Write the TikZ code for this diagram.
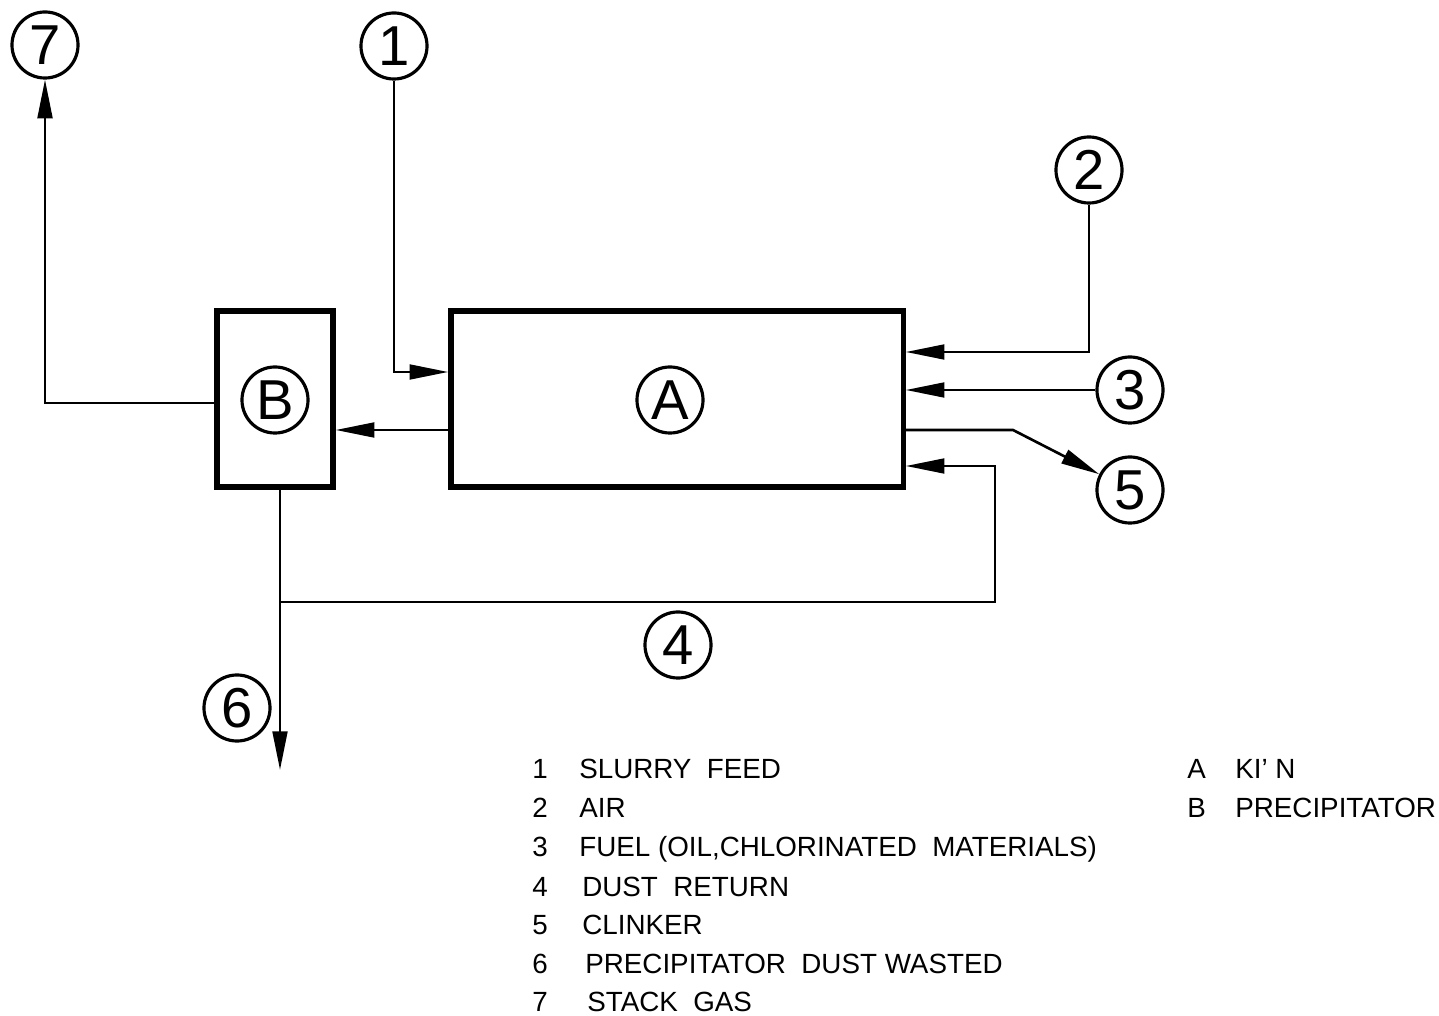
\documentclass[tikz,border=0pt]{standalone}
\usepackage{fontspec}
\setmainfont{Liberation Sans}
\usetikzlibrary{arrows.meta,positioning,calc}

\begin{document}
\begin{tikzpicture}[x=0.01cm,y=-0.01cm,>={Triangle[length=11pt,width=4.2pt]},line width=0.75pt,
  tag/.style={circle,draw,line width=0.9pt,minimum size=0.66cm,inner sep=0pt,font=\fontsize{16}{16}\selectfont},
  unit/.style={draw,line width=1.5pt,minimum height=1.76cm},
  key/.style={anchor=west,inner sep=0pt,text height=5.8pt,text depth=0pt,font=\fontsize{7.9}{10}\selectfont}]
\useasboundingbox (0,0) rectangle (1439,1016);
% units
\node[unit,minimum width=4.52cm] (kiln) at (677,399) {};
\node[unit,minimum width=1.16cm] (prec) at (275,399) {};
\node[tag] (tagA) at (670,400) {A};
\node[tag] (tagB) at (275,400) {B};
% stream tags
\node[tag] (n1) at (394,46) {1};
\node[tag] (n2) at (1089,170) {2};
\node[tag] (n3) at (1130,390) {3};
\node[tag] (n4) at (678,645) {4};
\node[tag] (n5) at (1130,490) {5};
\node[tag] (n6) at (237,708) {6};
\node[tag] (n7) at (45,45) {7};
% bends
\coordinate (c1) at (394,372);
\coordinate (c2) at (1089,352);
\coordinate (c5) at (1013,430);
\coordinate (m) at (390,430);
\coordinate (t) at (280,602);
\coordinate (r4) at (995,602);
\coordinate (r4top) at (995,466);
\coordinate (end6) at (280,770);
\coordinate (c7) at (45,403);
% streams
\draw[->] (n1.south) -- (c1) -- (c1 -| kiln.west);
\draw[->] (n2.south) -- (c2) -- (c2 -| kiln.east);
\draw[->] (n3.west) -- (n3.west -| kiln.east);
\draw[->] (kiln.east |- c5) -- (c5) -- (n5);
\draw[->] (kiln.west |- m) -- (prec.east |- m);
\draw[->] (t) -- (r4) -- (r4top) -- (r4top -| kiln.east);
\draw[->] (t |- prec.south) -- (end6);
\draw[->] (prec.west |- c7) -- (c7) -- (n7.south);
% legend
\node[key] (k1) at (531,768) {1};
\node[key] (t1) at (578,768) {SLURRY\ \ FEED};
\node[key] (k2) at (531,807) {2};
\node[key] (t2) at (578,807) {AIR};
\node[key] (k3) at (531,846) {3};
\node[key] (t3) at (578,846) {FUEL (OIL,CHLORINATED\ \ MATERIALS)};
\node[key] (k4) at (531,886) {4};
\node[key] (t4) at (581,886) {DUST\ \ RETURN};
\node[key] (k5) at (531,924) {5};
\node[key] (t5) at (581,924) {CLINKER};
\node[key] (k6) at (531,963) {6};
\node[key] (t6) at (584,963) {PRECIPITATOR\ \ DUST WASTED};
\node[key] (k7) at (531,1001) {7};
\node[key] (t7) at (586,1001) {STACK\ \ GAS};
\node[key] (kA) at (1186,768) {A};
\node[key] (tA) at (1234,768) {KI' N};
\node[key] (kB) at (1186,807) {B};
\node[key] (tB) at (1234,807) {PRECIPITATOR};
\end{tikzpicture}
\end{document}
